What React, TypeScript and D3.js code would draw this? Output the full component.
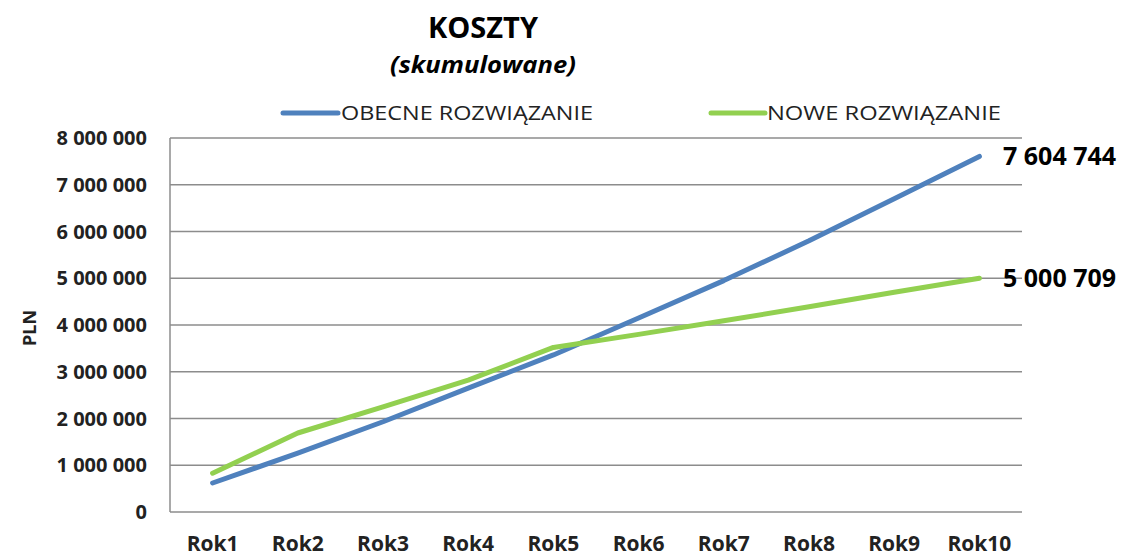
import React from "react";
import * as d3 from "d3";

const categories = ["Rok1", "Rok2", "Rok3", "Rok4", "Rok5", "Rok6", "Rok7", "Rok8", "Rok9", "Rok10"];
const obecne = [620000, 1260000, 1930000, 2650000, 3360000, 4150000, 4950000, 5800000, 6700000, 7604744];
const nowe = [830000, 1690000, 2250000, 2820000, 3520000, 3800000, 4090000, 4390000, 4700000, 5000709];
const yTicks = [0, 1000000, 2000000, 3000000, 4000000, 5000000, 6000000, 7000000, 8000000];
const seriesNames = ["OBECNE ROZWIĄZANIE", "NOWE ROZWIĄZANIE"];
const colors = ["#4F81BD", "#92D050"];

const W = 1127;
const H = 558;
const M = { left: 170, right: 1022, top: 138, bottom: 512 };
const FONT = "'Open Sans', 'Noto Sans', sans-serif";

const fmt = (v: number) => {
  const s = d3.format(",")(Math.round(v));
  return s.replace(/,/g, " ");
};

export default function App() {
  const x = d3.scaleBand<string>().domain(categories).range([M.left, M.right]).padding(0);
  const y = d3.scaleLinear().domain([0, 8000000]).range([M.bottom, M.top]);
  const cx = (c: string) => (x(c) as number) + x.bandwidth() / 2;
  const line = d3
    .line<number>()
    .x((_, i) => cx(categories[i]))
    .y((d) => y(d));
  const series = [obecne, nowe];

  return (
    <svg width={W} height={H} style={{ position: "absolute", left: 0, top: 0, background: "#fff" }}>
      <text x={483} y={38} textAnchor="middle" fontFamily={FONT} fontWeight="bold" fontSize={29} fill="#000">
        KOSZTY
      </text>
      <text x={483} y={73} textAnchor="middle" fontFamily={FONT} fontWeight="bold" fontStyle="italic" fontSize={23} fill="#000" textLength={186} lengthAdjust="spacingAndGlyphs">
        (skumulowane)
      </text>

      {/* legend */}
      <line x1={283} x2={338} y1={113} y2={113} stroke={colors[0]} strokeWidth={5} strokeLinecap="round" />
      <text x={341} y={120} fontFamily={FONT} fontSize={20} fill="#222" textLength={252} lengthAdjust="spacingAndGlyphs">
        {seriesNames[0]}
      </text>
      <line x1={711} x2={765} y1={113} y2={113} stroke={colors[1]} strokeWidth={5} strokeLinecap="round" />
      <text x={767} y={120} fontFamily={FONT} fontSize={20} fill="#222" textLength={234} lengthAdjust="spacingAndGlyphs">
        {seriesNames[1]}
      </text>

      {/* grid */}
      {yTicks.map((t) => (
        <g key={t}>
          {t > 0 && <line x1={M.left} x2={M.right} y1={y(t)} y2={y(t)} stroke="#8c8c8c" strokeWidth={1.5} />}
          <text x={147} y={y(t) + 7} textAnchor="end" fontFamily={FONT} fontWeight="bold" fontSize={20} fill="#222">
            {t === 0 ? "0" : fmt(t)}
          </text>
        </g>
      ))}
      <line x1={M.left} x2={M.left} y1={M.top} y2={M.bottom} stroke="#8c8c8c" strokeWidth={1.5} />
      <line x1={M.left} x2={M.right} y1={M.bottom} y2={M.bottom} stroke="#8c8c8c" strokeWidth={1.5} />

      <text
        transform={`translate(36, ${(M.top + M.bottom) / 2 + 3}) rotate(-90)`}
        textAnchor="middle"
        fontFamily={FONT}
        fontWeight="bold"
        fontSize={18}
        fill="#222"
      >
        PLN
      </text>

      {categories.map((c) => (
        <text key={c} x={cx(c)} y={551} textAnchor="middle" fontFamily={FONT} fontWeight="bold" fontSize={21} fill="#222">
          {c}
        </text>
      ))}

      {series.map((s, i) => (
        <path key={i} d={line(s) || ""} fill="none" stroke={colors[i]} strokeWidth={5} strokeLinecap="round" strokeLinejoin="round" />
      ))}

      {series.map((s, i) => (
        <text
          key={"l" + i}
          x={1003}
          y={y(s[s.length - 1]) + 9}
          fontFamily={FONT}
          fontWeight="bold"
          fontSize={25}
          fill="#000"
        >
          {fmt(s[s.length - 1])}
        </text>
      ))}
    </svg>
  );
}
